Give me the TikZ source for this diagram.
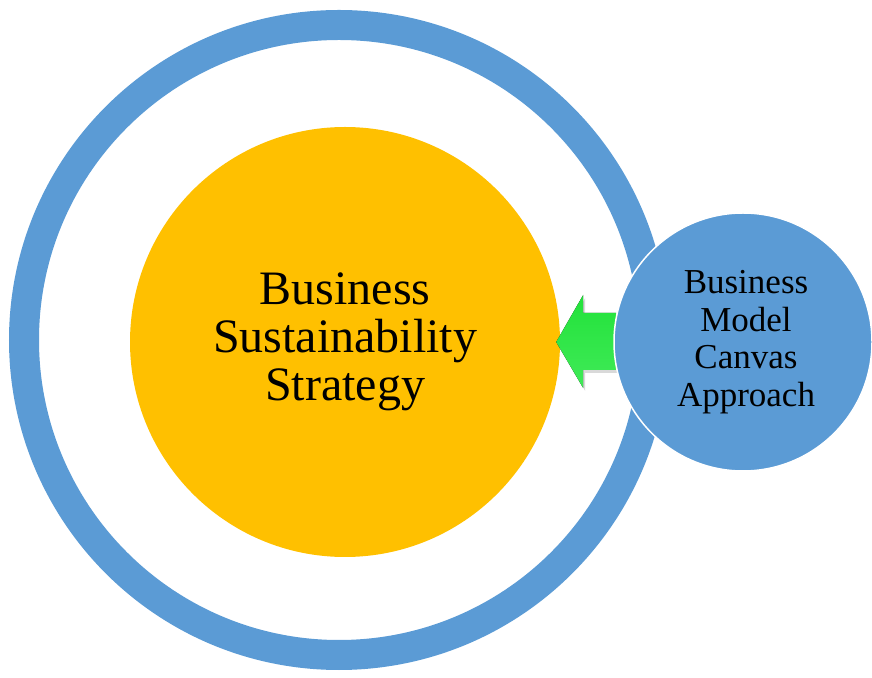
\documentclass[tikz,border=0pt]{standalone}
\usepackage{fontspec}
\setmainfont{Liberation Serif}
\usetikzlibrary{shadows}
\definecolor{ringblue}{HTML}{5B9BD5}
\definecolor{coreorange}{HTML}{FFC000}
\definecolor{arrowgreen}{HTML}{22E23A}
\definecolor{arrowlight}{HTML}{40EA58}
\begin{document}
\begin{tikzpicture}[x=1pt,y=1pt,text=black]
	\tikzstyle{every node}=[circle,inner sep=0pt,align=center]
	\tikzstyle{RING}=[draw=ringblue,line width=30pt,minimum size=630pt] % outer ring
	\tikzstyle{CORE}=[fill=coreorange,minimum size=430pt,font={\fontsize{48}{48}\selectfont}] % strategy core
	\tikzstyle{BMC}=[fill=ringblue,draw=white,line width=1.5pt,minimum size=258pt,font={\fontsize{35}{37.5}\selectfont}] % canvas bubble
	\useasboundingbox (0,0) rectangle (872,677);
	\node(ring)[RING] at (339,337) {};
	\node(bss)[CORE] at (345,335) {Business\\Sustainability\\Strategy};
	% green block arrow, tip on the core
	\fill[top color=arrowgreen,bottom color=arrowlight,drop shadow={opacity=0.3,shadow xshift=2pt,shadow yshift=-3pt}]
		([xshift=-4pt]bss.east) -- ++(27,47) -- ++(0,-18) -- ++(33,0) -- ++(0,-57) -- ++(-33,0) -- ++(0,-18) -- cycle;
	\node(bmc)[BMC] at (743,335) {\hspace*{6pt}Business\\\hspace*{6pt}Model\\\hspace*{6pt}Canvas\\\hspace*{6pt}Approach};
\end{tikzpicture}
\end{document}
